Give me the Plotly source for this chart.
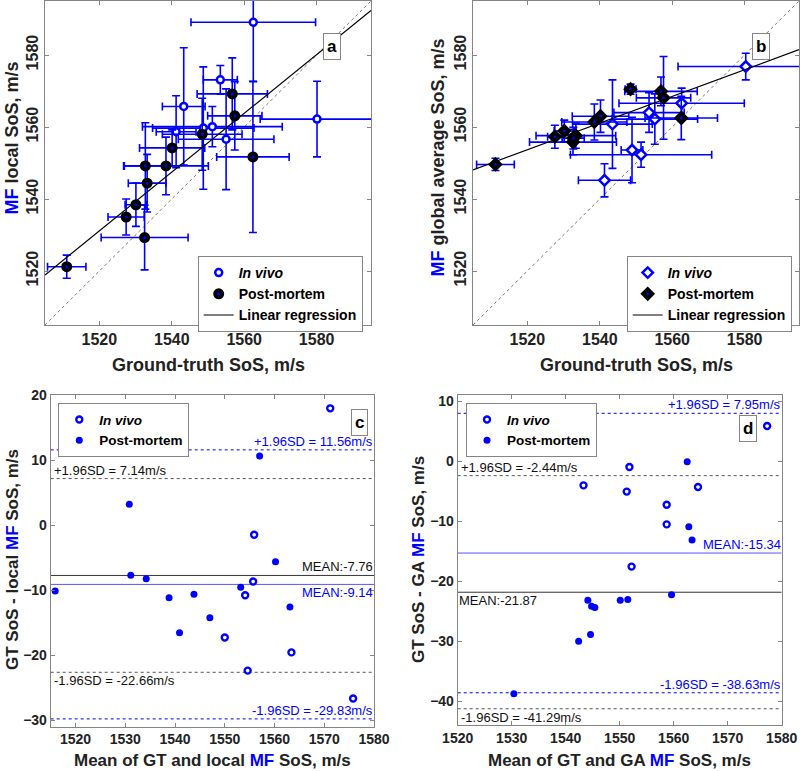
import plotly.graph_objects as go

BLUE = "#0000ff"
FONT = "Liberation Sans, Arial, sans-serif"
FRAME = "#858585"

# ---------------- Panel a: local MF SoS vs ground truth ----------------
a_iv_gt = [1562.5, 1553.4, 1543.3, 1548.7, 1551.2, 1541.2, 1555.0, 1580.1]
a_iv_mf = [1589.1, 1573.1, 1565.7, 1559.7, 1560.1, 1558.7, 1556.6, 1562.2]
a_iv_gt_err = [17.2, 4.7, 5.9, 14.0, 19.3, 5.5, 13.2, 15.7]
a_iv_mf_err = [16.5, 4.0, 16.3, 17.0, 5.6, 10.0, 14.0, 10.5]

a_pm_gt = [1556.7, 1557.4, 1562.4, 1548.4, 1540.1, 1538.4, 1532.7, 1533.2, 1530.1, 1527.4, 1532.5, 1511.0]
a_pm_mf = [1569.2, 1563.1, 1551.7, 1558.0, 1554.2, 1549.2, 1549.2, 1544.4, 1538.4, 1535.0, 1529.3, 1521.2]
a_pm_gt_err = [9.7, 7.5, 10.0, 11.0, 9.0, 11.7, 5.8, 5.2, 3.0, 5.0, 12.0, 5.3]
a_pm_mf_err = [10.0, 9.5, 21.0, 10.0, 5.0, 8.0, 12.0, 8.0, 6.0, 5.0, 9.0, 3.2]

a_reg_slope, a_reg_intercept = 0.816, 290.82

# ---------------- Panel b: global average MF SoS vs ground truth ----------------
b_iv_gt = [1580.3, 1562.6, 1553.6, 1555.2, 1543.5, 1548.9, 1551.4, 1541.3]
b_iv_mf = [1576.8, 1566.6, 1564.0, 1562.2, 1560.8, 1553.6, 1552.3, 1545.2]
b_iv_gt_err = [18.7, 17.3, 9.7, 11.8, 11.0, 3.0, 19.5, 7.2]
b_iv_mf_err = [3.7, 4.2, 5.5, 7.0, 12.3, 9.1, 3.5, 4.6]

b_pm_gt = [1548.5, 1556.9, 1557.6, 1562.5, 1540.2, 1538.5, 1530.2, 1533.4, 1527.6, 1532.6, 1511.2, 1532.7]
b_pm_mf = [1570.5, 1569.9, 1568.1, 1562.5, 1563.0, 1561.4, 1558.9, 1557.6, 1557.3, 1555.8, 1549.6, 1556.9]
b_pm_gt_err = [1.5, 10.0, 7.5, 10.0, 7.8, 9.0, 2.8, 11.0, 2.0, 12.0, 5.2, 3.0]
b_pm_mf_err = [1.4, 4.0, 11.5, 6.0, 4.5, 5.0, 3.0, 3.5, 3.2, 3.5, 1.7, 3.0]

b_reg_slope, b_reg_intercept = 0.371, 989.745

# ---------------- Panel c: Bland-Altman, local MF ----------------
c_iv_mean = [1571.2, 1555.9, 1555.7, 1554.1, 1550.0, 1563.4, 1554.6, 1575.8]
c_iv_diff = [17.95, -1.5, -8.7, -10.8, -17.3, -19.6, -22.4, -26.7]
c_pm_mean = [1515.9, 1530.8, 1531.1, 1534.2, 1538.8, 1540.9, 1543.8, 1547.0, 1553.2, 1557.0, 1560.2, 1563.1]
c_pm_diff = [-10.15, 3.18, -7.74, -8.26, -11.18, -16.56, -10.67, -14.26, -9.59, 10.62, -5.64, -12.62]
c_all_stats = [11.56, -9.14, -29.83]   # +1.96SD, mean, -1.96SD (blue)
c_pm_stats = [7.14, -7.76, -22.66]     # +1.96SD, mean, -1.96SD (black)

# ---------------- Panel d: Bland-Altman, global average MF ----------------
d_iv_mean = [1577.3, 1551.8, 1543.3, 1551.3, 1564.5, 1558.7, 1558.7, 1552.2]
d_iv_diff = [5.83, -1.0, -4.06, -5.1, -4.33, -7.28, -10.56, -17.6]
d_pm_mean = [1562.5, 1562.8, 1563.4, 1559.6, 1551.5, 1550.1, 1544.1, 1544.8, 1545.4, 1544.6, 1542.4, 1530.4]
d_pm_diff = [-0.11, -10.94, -13.17, -22.28, -23.1, -23.2, -23.2, -24.2, -24.4, -28.9, -30.06, -38.8]
d_all_stats = [7.95, -15.34, -38.63]
d_pm_stats = [-2.44, -21.87, -41.29]

# axis settings
ab_range = [1505, 1595]
ab_ticks = [1520, 1540, 1560, 1580]
c_xrange, c_yrange = [1515, 1580], [-31, 20]
d_xrange, d_yrange = [1520, 1580], [-44, 11]

fig = go.Figure()


def err(vals):
    return dict(type="data", array=vals, visible=True, color=BLUE, thickness=1.6, width=4)


# ---- panel a traces
fig.add_trace(go.Scatter(x=ab_range, y=ab_range, mode="lines", xaxis="x", yaxis="y",
                         line=dict(color="#777777", width=1, dash="dot"), showlegend=False, hoverinfo="skip"))
fig.add_trace(go.Scatter(x=a_iv_gt, y=a_iv_mf, mode="markers", xaxis="x", yaxis="y",
                         error_x=err(a_iv_gt_err), error_y=err(a_iv_mf_err),
                         marker=dict(symbol="circle", size=7, color="white", line=dict(color=BLUE, width=2.5)),
                         name="<i>In vivo</i>", legend="legend"))
fig.add_trace(go.Scatter(x=a_pm_gt, y=a_pm_mf, mode="markers", xaxis="x", yaxis="y",
                         error_x=err(a_pm_gt_err), error_y=err(a_pm_mf_err),
                         marker=dict(symbol="circle", size=7, color=BLUE, line=dict(color="black", width=4)),
                         name="Post-mortem", legend="legend"))
fig.add_trace(go.Scatter(x=ab_range, y=[a_reg_slope * v + a_reg_intercept for v in ab_range],
                         mode="lines", xaxis="x", yaxis="y", line=dict(color="black", width=1.2),
                         name="Linear regression", legend="legend"))

# ---- panel b traces
fig.add_trace(go.Scatter(x=ab_range, y=ab_range, mode="lines", xaxis="x2", yaxis="y2",
                         line=dict(color="#777777", width=1, dash="dot"), showlegend=False, hoverinfo="skip"))
fig.add_trace(go.Scatter(x=b_iv_gt, y=b_iv_mf, mode="markers", xaxis="x2", yaxis="y2",
                         error_x=err(b_iv_gt_err), error_y=err(b_iv_mf_err),
                         marker=dict(symbol="diamond", size=8, color="white", line=dict(color=BLUE, width=2.5)),
                         name="<i>In vivo</i>", legend="legend2"))
fig.add_trace(go.Scatter(x=b_pm_gt, y=b_pm_mf, mode="markers", xaxis="x2", yaxis="y2",
                         error_x=err(b_pm_gt_err), error_y=err(b_pm_mf_err),
                         marker=dict(symbol="diamond", size=7, color=BLUE, line=dict(color="black", width=4)),
                         name="Post-mortem", legend="legend2"))
fig.add_trace(go.Scatter(x=ab_range, y=[b_reg_slope * v + b_reg_intercept for v in ab_range],
                         mode="lines", xaxis="x2", yaxis="y2", line=dict(color="black", width=1.2),
                         name="Linear regression", legend="legend2"))


# ---- Bland-Altman panels
def ba_panel(xa, ya, xr, iv_x, iv_y, pm_x, pm_y, all_stats, pm_stats, leg):
    for v, col, dash, w in [(all_stats[0], BLUE, "dot", 1), (all_stats[2], BLUE, "dot", 1),
                            (pm_stats[0], "#555555", "dot", 1), (pm_stats[2], "#555555", "dot", 1),
                            (all_stats[1], "#5555ff", "solid", 1), (pm_stats[1], "#333333", "solid", 1)]:
        fig.add_trace(go.Scatter(x=xr, y=[v, v], mode="lines", xaxis=xa, yaxis=ya,
                                 line=dict(color=col, width=w, dash=dash), showlegend=False, hoverinfo="skip"))
    fig.add_trace(go.Scatter(x=iv_x, y=iv_y, mode="markers", xaxis=xa, yaxis=ya,
                             marker=dict(symbol="circle", size=6, color="white", line=dict(color=BLUE, width=2.4)),
                             name="<i>In vivo</i>", legend=leg))
    fig.add_trace(go.Scatter(x=pm_x, y=pm_y, mode="markers", xaxis=xa, yaxis=ya,
                             marker=dict(symbol="circle", size=7, color=BLUE),
                             name="Post-mortem", legend=leg))


ba_panel("x3", "y3", c_xrange, c_iv_mean, c_iv_diff, c_pm_mean, c_pm_diff, c_all_stats, c_pm_stats, "legend3")
ba_panel("x4", "y4", d_xrange, d_iv_mean, d_iv_diff, d_pm_mean, d_pm_diff, d_all_stats, d_pm_stats, "legend4")

# ---- axes
W, H = 800, 771


def xd(a, b):
    return [a / W, b / W]


def yd(top, bottom):
    return [1 - bottom / H, 1 - top / H]


common = dict(showline=True, linecolor=FRAME, linewidth=1, mirror="ticks", ticks="inside", ticklen=4,
              tickcolor=FRAME, showgrid=False, zeroline=False, automargin=False,
              tickfont=dict(family=FONT, size=16, color="#222222", weight="bold"))
small = dict(common)
small["tickfont"] = dict(family=FONT, size=14, color="#222222", weight="bold")

fig.update_layout(
    xaxis=dict(common, domain=xd(45, 371), range=ab_range, tickvals=ab_ticks, anchor="y"),
    yaxis=dict(common, domain=yd(1, 325), range=ab_range, tickvals=ab_ticks, tickangle=-90, anchor="x"),
    xaxis2=dict(common, domain=xd(473, 799), range=ab_range, tickvals=ab_ticks, anchor="y2"),
    yaxis2=dict(common, domain=yd(1, 325), range=ab_range, tickvals=ab_ticks, tickangle=-90, anchor="x2"),
    xaxis3=dict(small, domain=xd(50.7, 374), range=c_xrange, tickvals=list(range(1520, 1581, 10)), anchor="y3"),
    yaxis3=dict(small, domain=yd(395, 726.5), range=c_yrange, tickvals=list(range(-30, 21, 10)), anchor="x3"),
    xaxis4=dict(small, domain=xd(457.7, 781.7), range=d_xrange, tickvals=list(range(1520, 1581, 10)), anchor="y4"),
    yaxis4=dict(small, domain=yd(395, 725), range=d_yrange, tickvals=list(range(-40, 11, 10)), anchor="x4"),
)

leg_common = dict(bgcolor="white", bordercolor=FRAME, borderwidth=1, xanchor="left", yanchor="top",
                  font=dict(family=FONT, size=14, color="black", weight="bold"), tracegroupgap=0)
leg_small = dict(leg_common)
leg_small["font"] = dict(family=FONT, size=13.5, color="black", weight="bold")
fig.update_layout(
    legend=dict(leg_common, x=197.7 / W, y=1 - 256 / H),
    legend2=dict(leg_common, x=626.7 / W, y=1 - 256 / H),
    legend3=dict(leg_small, x=58.3 / W, y=1 - 403.3 / H),
    legend4=dict(leg_small, x=466 / W, y=1 - 403.3 / H),
)

ann = []
MF = "<span style='color:#0000ff'>MF</span>"
title_font = dict(family=FONT, size=18, color="#222222", weight="bold")
title_font_s = dict(family=FONT, size=17, color="#222222", weight="bold")
ann.append(dict(text="Ground-truth SoS, m/s", x=208 / W, y=1 - 365 / H, font=title_font))
ann.append(dict(text="Ground-truth SoS, m/s", x=636 / W, y=1 - 365 / H, font=title_font))
ann.append(dict(text=MF + " local SoS, m/s", x=11 / W, y=1 - 138.5 / H, textangle=-90, font=title_font))
ann.append(dict(text=MF + " global average SoS, m/s", x=437.5 / W, y=1 - 158 / H, textangle=-90, font=title_font))
ann.append(dict(text="Mean of GT and local " + MF + " SoS, m/s", x=212 / W, y=1 - 760 / H, font=title_font_s))
ann.append(dict(text="Mean of GT and GA " + MF + " SoS, m/s", x=619 / W, y=1 - 760 / H, font=title_font_s))
ann.append(dict(text="GT SoS - local " + MF + " SoS, m/s", x=12 / W, y=1 - 560 / H, textangle=-90, font=title_font_s))
ann.append(dict(text="GT SoS - GA " + MF + " SoS, m/s", x=418 / W, y=1 - 560 / H, textangle=-90, font=title_font_s))
for a in ann:
    a.update(xref="paper", yref="paper", showarrow=False, xanchor="center", yanchor="middle")

box_font = dict(family=FONT, size=17, color="black", weight="bold")
for lab, xr, yr, xv, yv in [("a", "x", "y", 1584.2, 1582.3), ("b", "x2", "y2", 1584.4, 1582.3),
                            ("c", "x3", "y3", 1577.0, 15.8), ("d", "x4", "y4", 1573.8, 5.44)]:
    ann.append(dict(text=lab, xref=xr, yref=yr, x=xv, y=yv, showarrow=False, font=box_font,
                    bordercolor=FRAME, borderwidth=1, borderpad=3, bgcolor="white"))

lbl_font_b = dict(family=FONT, size=13, color=BLUE)
lbl_font_k = dict(family=FONT, size=13, color="#111111")


def ba_labels(xrange, all_stats, pm_stats):
    left = xrange[0]
    right = xrange[1]
    out = []
    out.append(dict(text="+1.96SD = %.2fm/s" % all_stats[0], x=right, y=all_stats[0], xanchor="right",
                    yanchor="bottom", font=lbl_font_b))
    out.append(dict(text="-1.96SD = %.2fm/s" % all_stats[2], x=right, y=all_stats[2], xanchor="right",
                    yanchor="bottom", font=lbl_font_b))
    out.append(dict(text="+1.96SD = %.2fm/s" % pm_stats[0], x=left, y=pm_stats[0], xanchor="left",
                    yanchor="bottom", font=lbl_font_k, xshift=2))
    out.append(dict(text="-1.96SD = %.2fm/s" % pm_stats[2], x=left, y=pm_stats[2], xanchor="left",
                    yanchor="top", font=lbl_font_k, xshift=2))
    return out


for a in ba_labels(c_xrange, c_all_stats, c_pm_stats):
    a.update(xref="x3", yref="y3", showarrow=False, borderpad=0)
    ann.append(a)
ann.append(dict(text="MEAN:%.2f" % c_pm_stats[1], xref="x3", yref="y3", x=c_xrange[1], y=c_pm_stats[1],
                xanchor="right", yanchor="bottom", showarrow=False, font=lbl_font_k, borderpad=0))
ann.append(dict(text="MEAN:%.2f" % c_all_stats[1], xref="x3", yref="y3", x=c_xrange[1], y=c_all_stats[1],
                xanchor="right", yanchor="top", showarrow=False, font=lbl_font_b, borderpad=0))

for a in ba_labels(d_xrange, d_all_stats, d_pm_stats):
    a.update(xref="x4", yref="y4", showarrow=False, borderpad=0)
    ann.append(a)
ann.append(dict(text="MEAN:%.2f" % d_all_stats[1], xref="x4", yref="y4", x=d_xrange[1], y=d_all_stats[1],
                xanchor="right", yanchor="bottom", showarrow=False, font=lbl_font_b, borderpad=0))
ann.append(dict(text="MEAN:%.2f" % d_pm_stats[1], xref="x4", yref="y4", x=d_xrange[0], y=d_pm_stats[1],
                xanchor="left", yanchor="top", showarrow=False, font=lbl_font_k, borderpad=0))

fig.update_layout(annotations=ann, width=W, height=H, margin=dict(l=0, r=0, t=0, b=0, autoexpand=False),
                  paper_bgcolor="white", plot_bgcolor="white",
                  font=dict(family=FONT, color="#222222"))

fig.write_html("out.html", config={"displayModeBar": False},
               post_script="document.body.style.margin='0';document.body.style.overflow='hidden';")
